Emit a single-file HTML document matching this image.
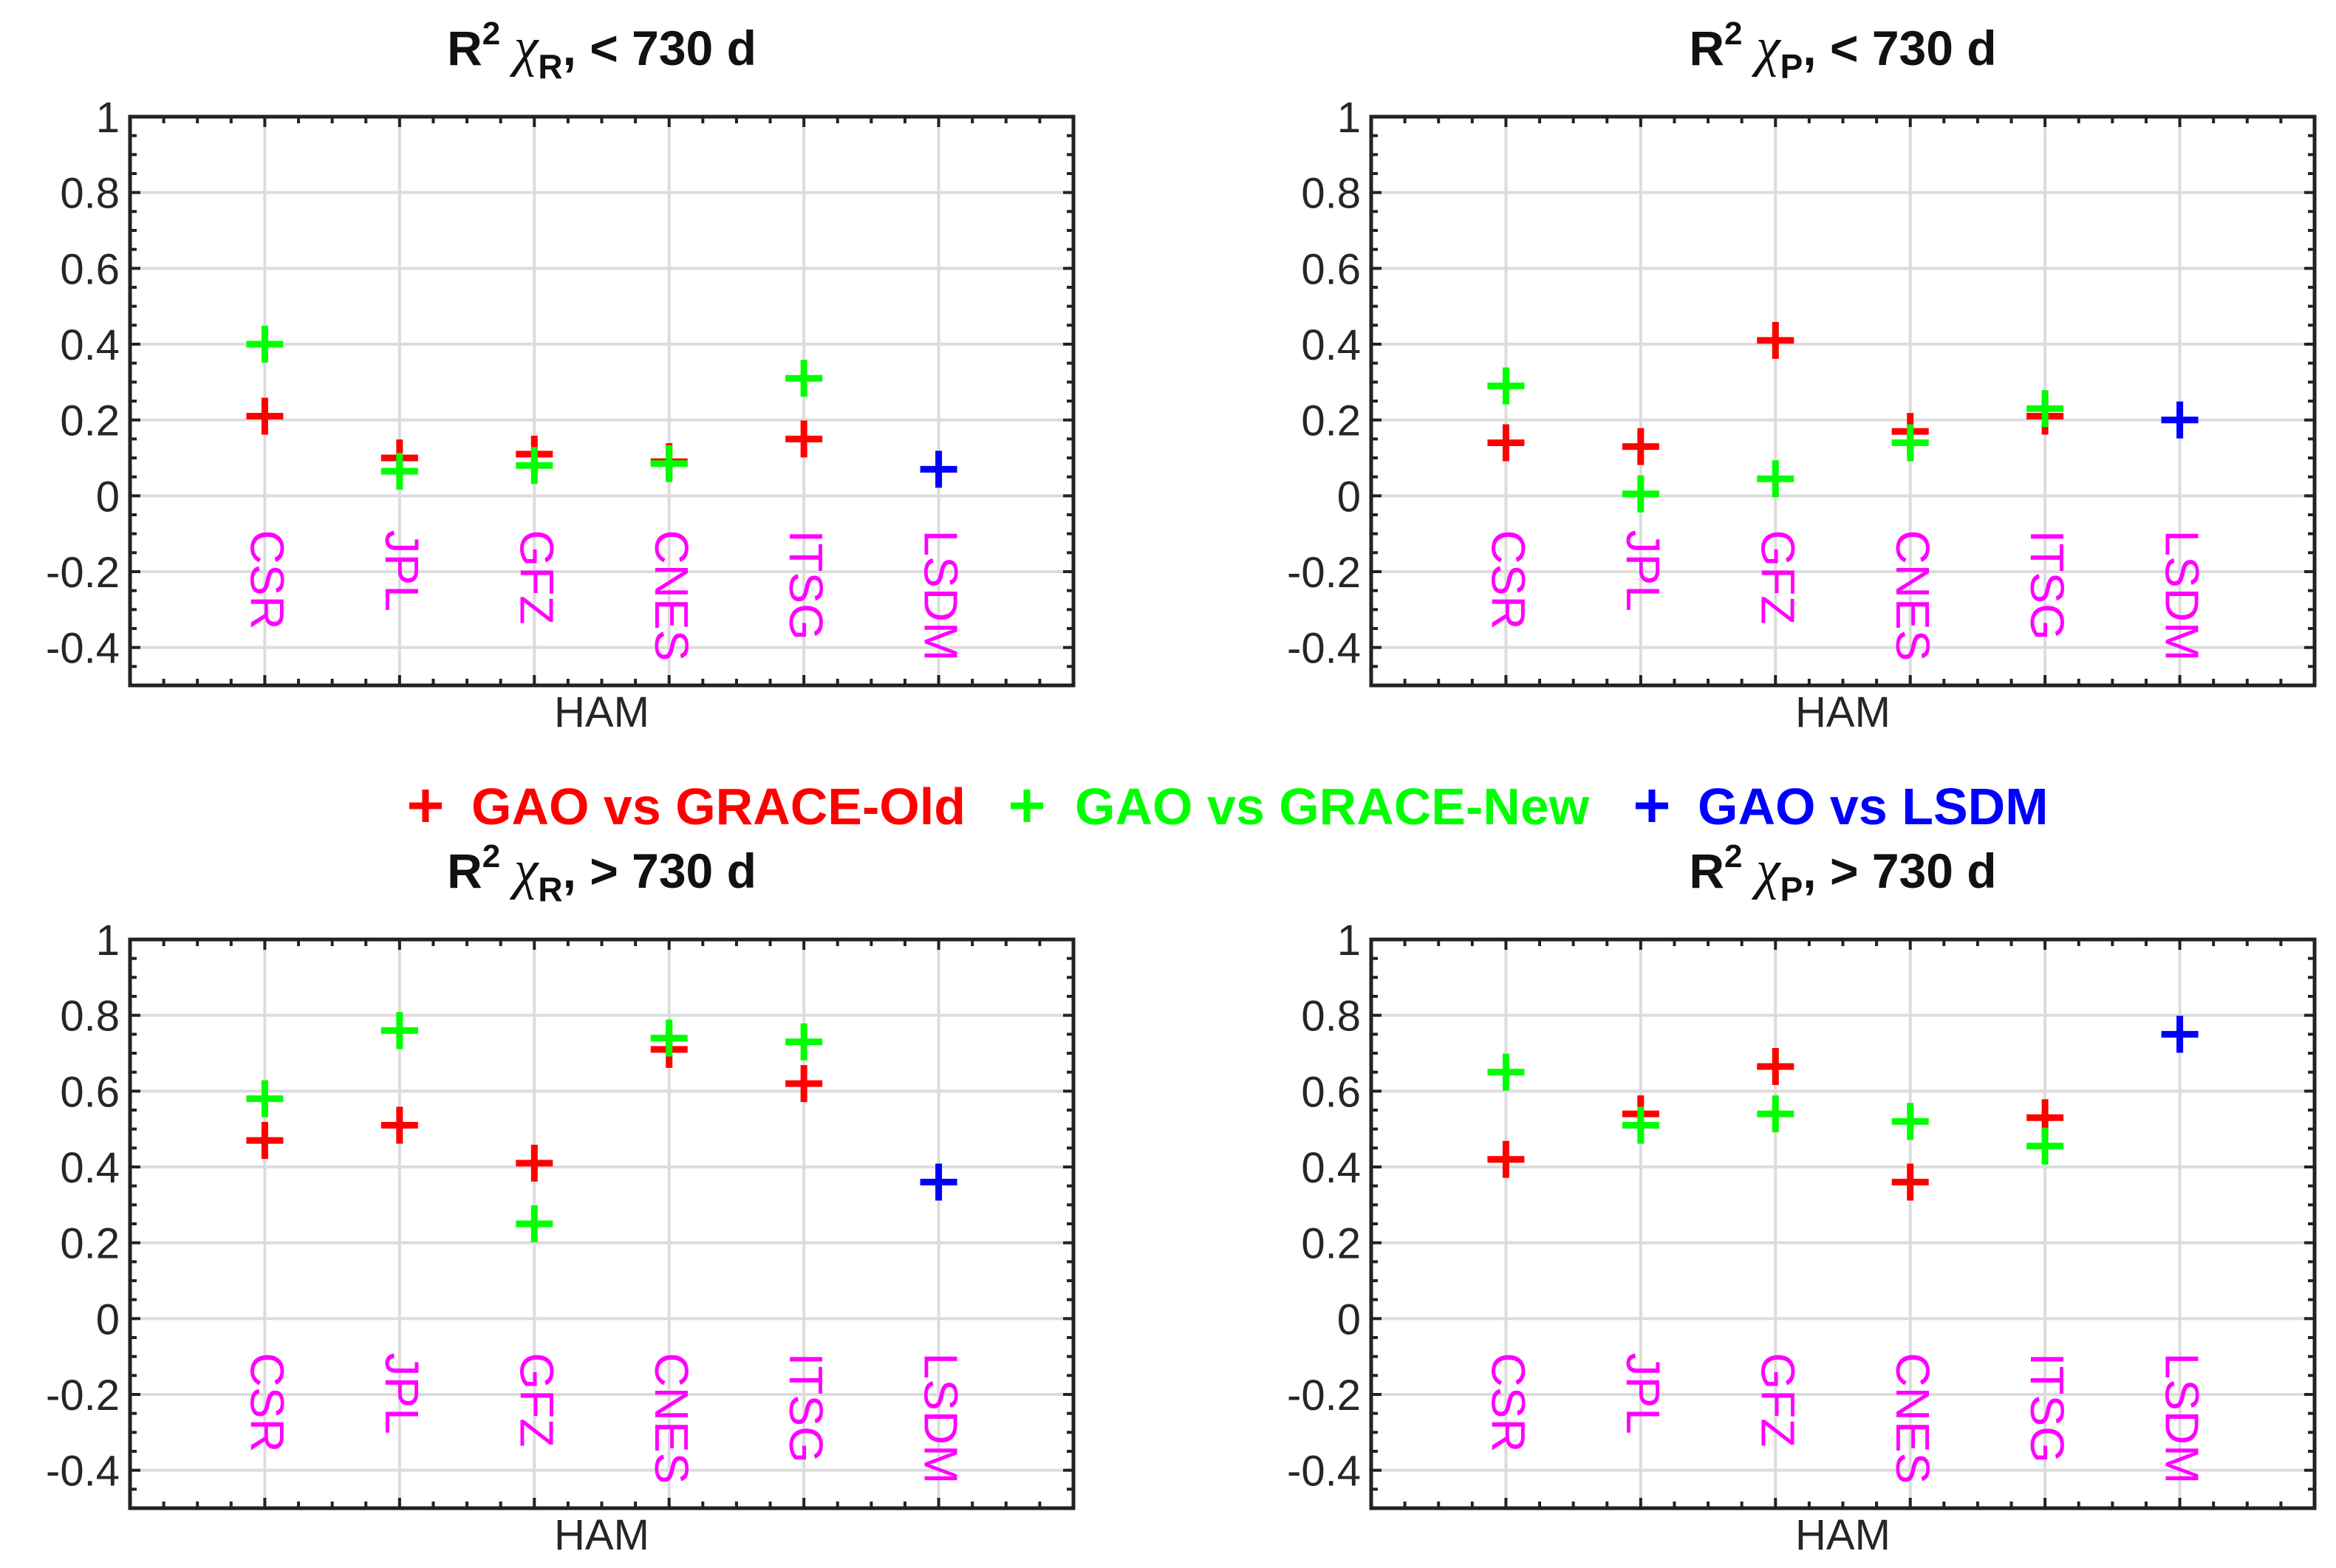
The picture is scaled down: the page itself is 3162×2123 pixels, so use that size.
<!DOCTYPE html>
<html><head><meta charset="utf-8">
<style>
html,body{margin:0;padding:0;background:#fff;}
svg{display:block;font-family:"Liberation Sans",Arial,sans-serif;}
</style></head>
<body>
<svg id="fig" width="3162" height="2123" viewBox="0 0 3162 2123"></svg>
<script>
const categories = ["CSR","JPL","GFZ","CNES","ITSG","LSDM"];
const yTicks = [-0.4,-0.2,0,0.2,0.4,0.6,0.8,1];
const yTickLabels = ["-0.4","-0.2","0","0.2","0.4","0.6","0.8","1"];
// panel 1: chi_R < 730 d
const p1Old = [0.21,0.10,0.11,0.09,0.15];
const p1New = [0.40,0.065,0.08,0.085,0.31];
const p1Lsdm = [0.07];
// panel 2: chi_P < 730 d
const p2Old = [0.14,0.13,0.41,0.17,0.21];
const p2New = [0.29,0.005,0.045,0.14,0.23];
const p2Lsdm = [0.20];
// panel 3: chi_R > 730 d
const p3Old = [0.47,0.51,0.41,0.71,0.62];
const p3New = [0.58,0.76,0.25,0.74,0.73];
const p3Lsdm = [0.36];
// panel 4: chi_P > 730 d
const p4Old = [0.42,0.54,0.665,0.36,0.53];
const p4New = [0.65,0.51,0.54,0.52,0.455];
const p4Lsdm = [0.75];

const NS="http://www.w3.org/2000/svg";
const svg=document.getElementById('fig');
function mk(tag,attrs,parent){const e=document.createElementNS(NS,tag);for(const k in attrs)e.setAttribute(k,attrs[k]);(parent||svg).appendChild(e);return e;}

const W=1277,H=770;
function panel(left,top,sub,cmp,oldV,newV,lsdmV,name){
  const g=mk('g',{});
  
  
  const xs=v=>left+v/7*W;
  const ys=v=>top+(1-v)/1.5*H;
  for(let i=0;i<yTicks.length;i++){
    const l=mk('line',{x1:left,x2:left+W,y1:ys(yTicks[i]),y2:ys(yTicks[i]),stroke:'#dcdcdc','stroke-width':4},g);
    
    
  }
  for(let i=0;i<categories.length;i++){
    const l=mk('line',{x1:xs(i+1),x2:xs(i+1),y1:top,y2:top+H,stroke:'#dcdcdc','stroke-width':4},g);
    
    
  }
  for(let v=-0.5;v<=1.0001;v+=0.05){
    const y=ys(v);
    const major=Math.abs(v*10-Math.round(v*10))<0.01 && Math.round(v*10)%2===0;
    const len=major?14:9;
    mk('line',{x1:left,x2:left+len,y1:y,y2:y,stroke:'#222','stroke-width':4},g);
    mk('line',{x1:left+W,x2:left+W-len,y1:y,y2:y,stroke:'#222','stroke-width':4},g);
  }
  for(let v=0;v<=7.001;v+=0.25){
    const x=xs(v);
    const major=Math.abs(v-Math.round(v))<0.01;
    const len=major?14:9;
    mk('line',{x1:x,x2:x,y1:top+H,y2:top+H-len,stroke:'#222','stroke-width':4},g);
    mk('line',{x1:x,x2:x,y1:top,y2:top+len,stroke:'#222','stroke-width':4},g);
  }
  const b=mk('rect',{x:left,y:top,width:W,height:H,fill:'none',stroke:'#222','stroke-width':5},g);
  
  
  for(let i=0;i<yTicks.length;i++){
    const t=mk('text',{x:left-14,y:ys(yTicks[i])+21,'text-anchor':'end','font-size':58,fill:'#262626'},g);
    t.textContent=yTickLabels[i];
    
    
  }
  for(let i=0;i<categories.length;i++){
    const x=xs(i+1)-2, y=ys(-0.09);
    const t=mk('text',{x:x,y:y,'font-size':64,fill:'#ff00ff',transform:`rotate(90 ${x} ${y})`,'dominant-baseline':'middle'},g);
    t.textContent=categories[i];
    
    
  }
  const xl=mk('text',{x:left+W/2,y:top+H+56,'text-anchor':'middle','font-size':58,fill:'#262626'},g);
  xl.textContent='HAM';
  
  
  const tt=mk('text',{x:left+W/2,y:top-70,'text-anchor':'middle','font-size':66,'font-weight':'bold',fill:'#111'},g);
  
  
  const s1=mk('tspan',{},tt);s1.textContent='R';
  const s2=mk('tspan',{dy:-28,'font-size':44},tt);s2.textContent='2';
  const s3=mk('tspan',{dy:28,'font-style':'italic','font-family':'"Liberation Serif",serif','font-weight':'normal','font-size':74},tt);s3.textContent=' χ';
  const s4=mk('tspan',{dy:18,'font-size':46},tt);s4.textContent=sub;
  const s5=mk('tspan',{dy:-18},tt);s5.textContent=', '+cmp+' 730 d';
  function plus(x,y,color,nm){
    const p=mk('path',{d:`M${x-25},${y}H${x+25}M${x},${y-25}V${y+25}`,stroke:color,'stroke-width':9,fill:'none'},g);
    
    
  }
  oldV.forEach((v,i)=>plus(xs(i+1),ys(v),'#ff0000','marker-grace-old'));
  newV.forEach((v,i)=>plus(xs(i+1),ys(v),'#00ff00','marker-grace-new'));
  lsdmV.forEach((v,i)=>plus(xs(6+i),ys(v),'#0000ff','marker-lsdm'));
}
panel(176,158,'R','<',p1Old,p1New,p1Lsdm,'panel-chiR-short');
panel(1856,158,'P','<',p2Old,p2New,p2Lsdm,'panel-chiP-short');
panel(176,1272,'R','>',p3Old,p3New,p3Lsdm,'panel-chiR-long');
panel(1856,1272,'P','>',p4Old,p4New,p4Lsdm,'panel-chiP-long');

const lg=mk('g',{});


const entries=[[576,638,'GAO vs GRACE-Old','#ff0000'],[1390,1455,'GAO vs GRACE-New','#00ff00'],[2236,2298,'GAO vs LSDM','#0000ff']];
entries.forEach(e=>{
  const y=1091;
  const p=mk('path',{d:`M${e[0]-22},${y}H${e[0]+22}M${e[0]},${y-22}V${y+22}`,stroke:e[3],'stroke-width':9},lg);
  
  
  const t=mk('text',{x:e[1],y:y+25,'font-size':70,'font-weight':'bold',fill:e[3]},lg);
  t.textContent=e[2];
  
  
});
</script>
</body></html>
